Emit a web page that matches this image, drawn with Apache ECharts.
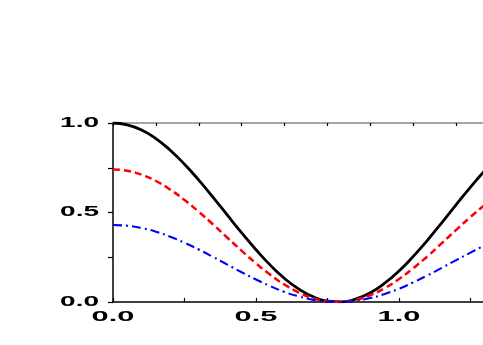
<!DOCTYPE html>
<html>
<head>
<meta charset="utf-8">
<script src="https://cdn.jsdelivr.net/npm/echarts@6/dist/echarts.min.js"></script>
<style>
  html, body { margin: 0; padding: 0; background: #fff; }
  #chart { width: 483px; height: 345px; }
</style>
</head>
<body>
<div id="chart"></div>
<script>
// x positions
var xs = [0, 0.05, 0.1, 0.15, 0.2, 0.25, 0.3, 0.35, 0.4, 0.45, 0.5, 0.55, 0.6, 0.65, 0.7,
  0.75, 0.8, 0.85, 0.9, 0.95, 1.0, 1.05, 1.1, 1.15, 1.2, 1.25, 1.3, 1.35]
// black solid
var blackVals = [1.0, 0.99, 0.961, 0.913, 0.848, 0.77, 0.681, 0.585, 0.485, 0.386, 0.292, 0.206, 0.131, 0.072, 0.029,
  0.005, 0.001, 0.017, 0.052, 0.105, 0.173, 0.255, 0.346, 0.444, 0.544, 0.642, 0.734, 0.817]
// red dashed
var redVals = [0.74, 0.733, 0.711, 0.676, 0.628, 0.57, 0.504, 0.433, 0.359, 0.286, 0.216, 0.152, 0.097, 0.053, 0.021,
  0.004, 0.001, 0.013, 0.038, 0.078, 0.128, 0.189, 0.256, 0.329, 0.403, 0.475, 0.543, 0.605]
// blue dash-dot
var blueVals = [0.43, 0.426, 0.413, 0.393, 0.365, 0.331, 0.293, 0.252, 0.209, 0.166, 0.126, 0.089, 0.056, 0.031, 0.012,
  0.002, 0.0, 0.007, 0.022, 0.045, 0.074, 0.11, 0.149, 0.191, 0.234, 0.276, 0.316, 0.351]

// tick labels
var xTickVals = [0, 0.5, 1.0]
var xTickLabels = ['0.0', '0.5', '1.0']
var yTickVals = [0, 0.5, 1.0]
var yTickLabels = ['0.0', '0.5', '1.0']

function pairs(vals) {
  return xs.map(function (x, i) { return [x, vals[i]] })
}

var chart = echarts.init(document.getElementById('chart'))

chart.setOption({
  backgroundColor: '#fff',
  animation: false,
  // plot runs past the right edge of the window
  grid: { left: 113, top: 123, width: 429, height: 179, outerBoundsMode: 'none', containLabel: false },
  xAxis: [
    {
      type: 'value', position: 'bottom', min: 0, max: 1.5, interval: 0.25,
      axisLine: { show: true, lineStyle: { color: '#000', width: 1.5 } },
      axisTick: { show: true, inside: true, length: 4, lineStyle: { color: '#000', width: 1.2 } },
      axisLabel: { show: false },
      splitLine: { show: false }
    },
    {
      type: 'value', position: 'top', min: 0, max: 1.5, interval: 0.15,
      axisLine: { show: true, lineStyle: { color: '#888', width: 1.5 } },
      axisTick: { show: true, inside: true, length: 3, lineStyle: { color: '#000', width: 1.2 } },
      axisLabel: { show: false },
      splitLine: { show: false }
    }
  ],
  yAxis: {
    type: 'value', min: 0, max: 1, interval: 0.25,
    axisLine: { show: true, lineStyle: { color: '#000', width: 1.5 } },
    axisTick: { show: true, inside: false, length: 5, lineStyle: { color: '#000', width: 1.2 } },
    axisLabel: { show: false },
    splitLine: { show: false }
  },
  series: [
    { // --------------black--------------
      type: 'line', data: pairs(blackVals), smooth: true, showSymbol: false,
      lineStyle: { color: '#000', width: 2.8, type: 'solid' }
    },
    { // --------------red--------------
      type: 'line', data: pairs(redVals), smooth: true, showSymbol: false,
      lineStyle: { color: '#ff0000', width: 2.5, type: [7, 4] }
    },
    { // --------------blue--------------
      type: 'line', data: pairs(blueVals), smooth: true, showSymbol: false,
      lineStyle: { color: '#0000ff', width: 2.1, type: [9, 4, 2, 4] }
    }
  ]
})

// stretched tick labels, placed through the axes' own scales
var labelFont = { fontSize: 14, fontWeight: 'bold', fontFamily: '"Liberation Sans", Arial, sans-serif', fill: '#000' }
var graphics = []
xTickVals.forEach(function (v, i) {
  var px = chart.convertToPixel({ xAxisIndex: 0 }, v)
  var py = chart.convertToPixel({ yAxisIndex: 0 }, 0)
  graphics.push({
    type: 'text', x: px, y: py + 8, scaleX: 2.2,
    style: Object.assign({ text: xTickLabels[i], align: 'center', verticalAlign: 'top' }, labelFont)
  })
})
yTickVals.forEach(function (v, i) {
  var px = chart.convertToPixel({ xAxisIndex: 0 }, 0)
  var py = chart.convertToPixel({ yAxisIndex: 0 }, v)
  graphics.push({
    type: 'text', x: px - 14, y: py, scaleX: 2.0,
    style: Object.assign({ text: yTickLabels[i], align: 'right', verticalAlign: 'middle' }, labelFont)
  })
})
chart.setOption({ graphic: graphics })
</script>
</body>
</html>
